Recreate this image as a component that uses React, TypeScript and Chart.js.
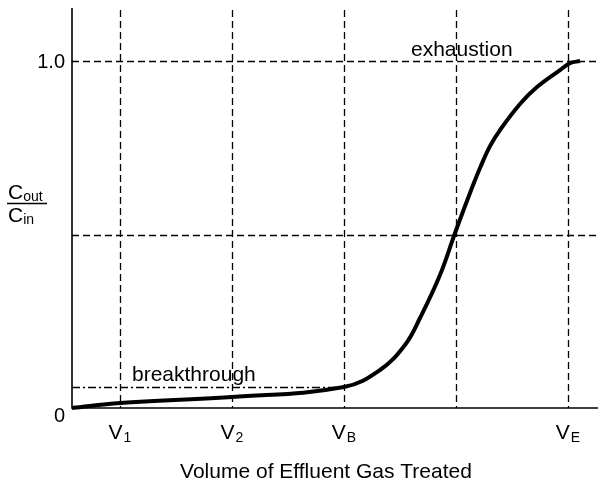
import React, { useEffect, useRef } from "react";
import { Chart, registerables } from "chart.js";

Chart.register(...registerables);

// Breakthrough curve data (x in arbitrary volume units, y = Cout/Cin)
const volumeValues = [0, 3, 10, 17, 19.25, 20.81, 21.75, 23, 23.94, 24.875, 25.5, 26.125, 26.75, 28, 29.06, 30.5, 31.125, 31.75];
const ratioValues = [0, 0.0144, 0.0317, 0.0605, 0.1095, 0.1816, 0.2594, 0.3833, 0.5043, 0.6196, 0.6916, 0.755, 0.8012, 0.8761, 0.9251, 0.9741, 0.9942, 1.0];

// Guide lines
const verticalGuides = [3, 10, 17, 24, 31];
const horizontalGuides = [0.5, 1.0];
const breakthroughLevel = 0.06;
const breakthroughVolume = 17;

// Tick labels
const xTickPositions = [3, 10, 17, 31];
const xTickMain = ["V", "V", "V", "V"];
const xTickSubs = ["1", "2", "B", "E"];
const yTickPositions = [0, 1.0];
const yTickLabels = ["0", "1.0"];

const X_MAX = 32.875;
const Y_MAX = 1.153;
const FONT = "Arial, 'Liberation Sans', sans-serif";

const decorPlugin = {
  id: "decor",
  beforeDatasetsDraw(chart: any) {
    const { ctx, chartArea, scales } = chart;
    const xs = scales.x;
    const ys = scales.y;
    const x0 = xs.getPixelForValue(0);
    const y0 = ys.getPixelForValue(0);
    ctx.save();
    ctx.strokeStyle = "#000";
    ctx.lineWidth = 1.3;
    ctx.setLineDash([7, 4]);
    verticalGuides.forEach((v) => {
      const px = Math.round(xs.getPixelForValue(v)) + 0.5;
      ctx.beginPath();
      ctx.moveTo(px, chartArea.top + 2);
      ctx.lineTo(px, y0);
      ctx.stroke();
    });
    horizontalGuides.forEach((v) => {
      const py = Math.round(ys.getPixelForValue(v)) + 0.5;
      ctx.beginPath();
      ctx.moveTo(x0, py);
      ctx.lineTo(chartArea.right, py);
      ctx.stroke();
    });
    ctx.setLineDash([8, 3, 2, 3]);
    const by = Math.round(ys.getPixelForValue(breakthroughLevel)) + 0.5;
    ctx.beginPath();
    ctx.moveTo(x0, by);
    ctx.lineTo(xs.getPixelForValue(breakthroughVolume), by);
    ctx.stroke();
    ctx.setLineDash([]);
    ctx.lineWidth = 1.6;
    ctx.beginPath();
    ctx.moveTo(x0, chartArea.top);
    ctx.lineTo(x0, y0);
    ctx.lineTo(chartArea.right, y0);
    ctx.stroke();
    ctx.restore();
  },
  afterDatasetsDraw(chart: any) {
    const { ctx, scales } = chart;
    const xs = scales.x;
    const ys = scales.y;
    const y0 = ys.getPixelForValue(0);
    ctx.save();
    ctx.fillStyle = "#000";
    ctx.textBaseline = "alphabetic";
    ctx.font = `20px ${FONT}`;
    ctx.textAlign = "right";
    yTickLabels.forEach((t, i) => {
      const py = ys.getPixelForValue(yTickPositions[i]);
      ctx.fillText(t, xs.getPixelForValue(0) - 7, py + (i === 0 ? 14 : 7));
    });
    ctx.textAlign = "left";
    xTickPositions.forEach((v, i) => {
      const px = xs.getPixelForValue(v);
      ctx.font = `21px ${FONT}`;
      const wMain = ctx.measureText(xTickMain[i]).width;
      ctx.font = `14px ${FONT}`;
      const wSub = ctx.measureText(xTickSubs[i]).width;
      const start = px - (wMain + 1 + wSub) / 2;
      ctx.font = `21px ${FONT}`;
      ctx.fillText(xTickMain[i], start, y0 + 31);
      ctx.font = `14px ${FONT}`;
      ctx.fillText(xTickSubs[i], start + wMain + 1, y0 + 34);
    });
    ctx.font = `21px ${FONT}`;
    ctx.textAlign = "center";
    ctx.fillText("Volume of Effluent Gas Treated", 326, y0 + 70);
    ctx.textAlign = "left";
    ctx.fillText("breakthrough", 132, 381);
    ctx.fillText("exhaustion", 411, 56);
    ctx.font = `21px ${FONT}`;
    ctx.fillText("C", 8, 199);
    const wc = ctx.measureText("C").width;
    ctx.font = `14px ${FONT}`;
    ctx.fillText("out", 8 + wc, 201);
    ctx.font = `21px ${FONT}`;
    ctx.fillText("C", 8, 222);
    ctx.font = `14px ${FONT}`;
    ctx.fillText("in", 8 + wc, 224);
    ctx.strokeStyle = "#000";
    ctx.lineWidth = 1.5;
    ctx.beginPath();
    ctx.moveTo(7, 203.5);
    ctx.lineTo(47, 203.5);
    ctx.stroke();
    ctx.restore();
  },
};

export default function App() {
  const ref = useRef<HTMLCanvasElement | null>(null);
  useEffect(() => {
    if (!ref.current) return;
    const chart = new Chart(ref.current, {
      type: "line",
      data: {
        datasets: [
          {
            data: volumeValues.map((x, i) => ({ x, y: ratioValues[i] })),
            borderColor: "#000",
            borderWidth: 4,
            pointRadius: 0,
            fill: false,
            tension: 0.4,
            clip: false,
          } as any,
        ],
      },
      options: {
        animation: false,
        responsive: false,
        maintainAspectRatio: false,
        layout: { padding: { left: 72, top: 8, right: 0, bottom: 77 } },
        plugins: { legend: { display: false }, tooltip: { enabled: false } },
        scales: {
          x: { type: "linear", min: 0, max: X_MAX, display: false },
          y: { type: "linear", min: 0, max: Y_MAX, display: false },
        },
      },
      plugins: [decorPlugin],
    });
    return () => chart.destroy();
  }, []);
  return (
    <div style={{ position: "absolute", left: 0, top: 0, width: 598, height: 485, background: "#fff" }}>
      <canvas ref={ref} width={598} height={485} style={{ width: 598, height: 485 }} />
    </div>
  );
}
